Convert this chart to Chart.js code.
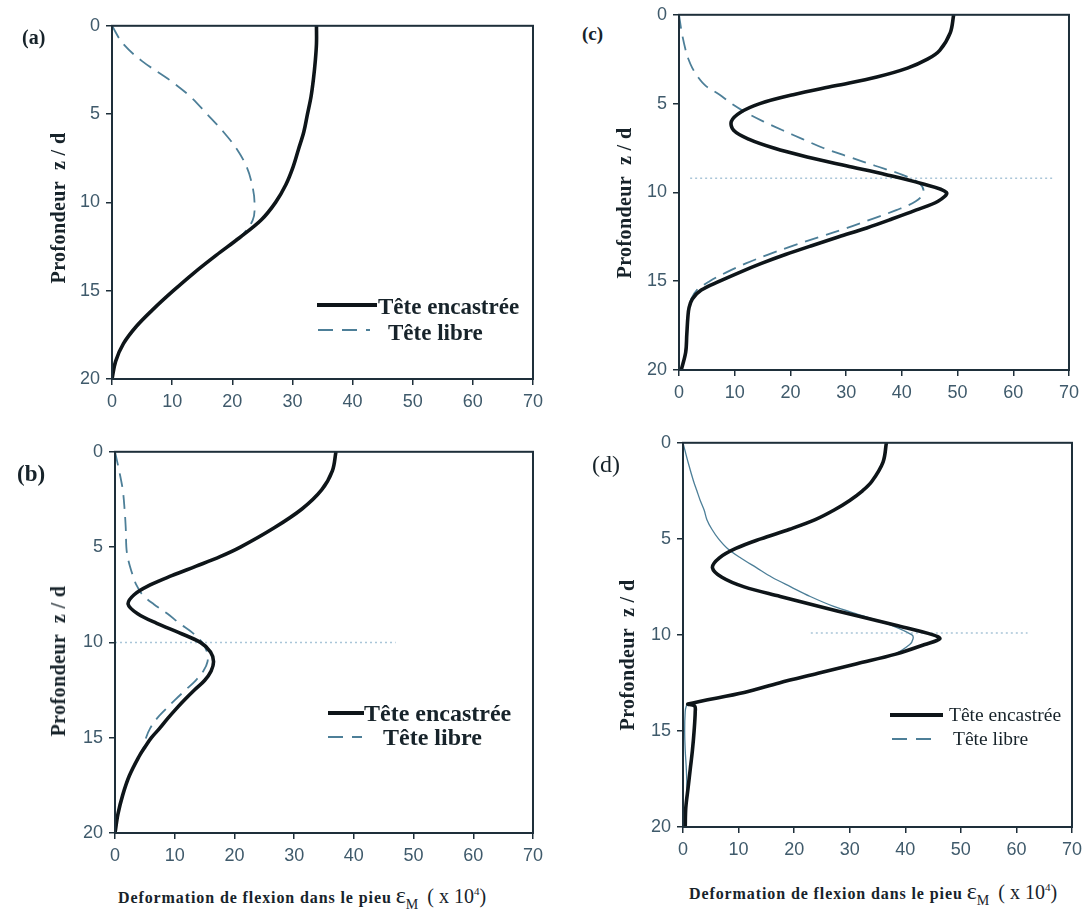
<!DOCTYPE html>
<html>
<head>
<meta charset="utf-8">
<script src="https://cdn.jsdelivr.net/npm/chart.js@4.4.1/dist/chart.umd.min.js"></script>
<style>
  body { margin: 0; background: #fff; width: 1086px; height: 920px; position: relative; overflow: hidden; font-family: "Liberation Serif", "Times New Roman", serif; color: #17232a; }
  canvas { position: absolute; }
  .t { position: absolute; white-space: nowrap; line-height: 1; }
  .b { font-weight: bold; }
  .yt { position: absolute; white-space: nowrap; line-height: 1; font-weight: bold; font-size: 20px; letter-spacing: 0.4px; transform: translate(-50%, -50%) rotate(-90deg); }
  .sw { position: absolute; height: 0; }
  .solid { border-top: 4px solid #0e1519; }
  .dash { height: 2px; background: repeating-linear-gradient(to right, #4d7f98 0 15px, transparent 15px 24px); }
  .xt { position: absolute; white-space: nowrap; line-height: 1; }
  .xt .lbl { font-weight: bold; font-size: 16px; letter-spacing: 0.9px; }
  .xt .eps { font-size: 24px; }
  .xt sub { font-size: 14px; }
  .xt .ux { font-size: 20px; }
  .xt sup { font-size: 11px; }
</style>
</head>
<body>
<canvas id="cA"></canvas>
<canvas id="cB"></canvas>
<canvas id="cC"></canvas>
<canvas id="cD"></canvas>

<div class="t b" style="left:22px;top:27px;font-size:20px">(a)</div>
<div class="t b" style="left:17px;top:462px;font-size:23px">(b)</div>
<div class="t b" style="left:582px;top:24px;font-size:19px">(c)</div>
<div class="t" style="left:592px;top:452px;font-size:24px">(d)</div>

<div class="yt" style="left:58px;top:208px">Profondeur&nbsp;&nbsp;z / d</div>
<div class="yt" style="left:58px;top:661px">Profondeur&nbsp;&nbsp;z / d</div>
<div class="yt" style="left:624px;top:203px">Profondeur&nbsp;&nbsp;z / d</div>
<div class="yt" style="left:627px;top:655px">Profondeur&nbsp;&nbsp;z / d</div>

<div class="sw solid" style="left:317px;top:303px;width:60px"></div>
<div class="t b" style="left:378px;top:295px;font-size:23px">Tête encastrée</div>
<div class="sw dash" style="left:318px;top:329px;width:52px"></div>
<div class="t b" style="left:388px;top:321px;font-size:23px">Tête libre</div>

<div class="sw solid" style="left:328px;top:711px;width:36px"></div>
<div class="t b" style="left:364px;top:701px;font-size:24px">Tête encastrée</div>
<div class="sw dash" style="left:328px;top:736px;width:34px"></div>
<div class="t b" style="left:383px;top:725px;font-size:24px">Tête libre</div>

<div class="sw solid" style="left:890px;top:713px;width:53px"></div>
<div class="t" style="left:949px;top:705px;font-size:19.5px">Tête encastrée</div>
<div class="sw dash" style="left:892px;top:738px;width:46px"></div>
<div class="t" style="left:953px;top:729px;font-size:19.5px">Tête libre</div>

<div class="xt" style="left:118px;top:883px"><span class="lbl">Deformation de flexion dans le pieu</span> <span class="eps">ε<sub>M</sub></span> <span class="ux">&nbsp;( x 10<sup>4</sup>)</span></div>
<div class="xt" style="left:689px;top:879px"><span class="lbl">Deformation de flexion dans le pieu</span> <span class="eps">ε<sub>M</sub></span> <span class="ux">&nbsp;( x 10<sup>4</sup>)</span></div>

<script>
// depth z/d (rows) and bending strain (x 10^4)
const depthA = [0, 1, 2, 3, 4, 5, 6, 7, 8, 9, 10, 11, 12, 13, 14, 15, 16, 17, 18, 19, 20];
const encastreeA = [34, 34, 33.8, 33.5, 33.1, 32.5, 31.9, 31, 30.1, 28.9, 27.2, 24.8, 21.2, 17.3, 13.6, 10.2, 7, 4.1, 1.9, 0.6, 0];
const libreA = [0, 1.8, 5, 9.3, 13, 15.8, 18.5, 20.8, 22.4, 23.3, 23.7, 23.4, 21.2, 17.3, 13.6, 10.2, 7, 4.1, 1.9, 0.6, 0];

const depthB = [0, 1, 2, 3, 4, 5, 5.5, 6, 6.5, 7, 7.5, 8, 8.5, 9, 9.5, 10, 10.5, 11, 11.5, 12, 12.5, 13, 13.5, 14, 14.5, 15, 15.5, 16, 17, 18, 19, 20];
const encastreeB = [37, 36.4, 34.6, 31.3, 26.6, 21, 17.6, 13.6, 9.5, 5.8, 3.2, 2.2, 3.8, 7, 10.8, 14.3, 16, 16.5, 16.1, 15, 13.3, 11.7, 10.2, 8.8, 7.5, 6.1, 5, 4, 2.4, 1.3, 0.5, 0];
const libreB = [0, 0.7, 1.3, 1.6, 1.8, 1.9, 2.1, 2.5, 3, 3.6, 4.6, 6.5, 8.8, 10.8, 13, 14.6, 15.4, 15.5, 14.8, 13.5, 11.8, 10.1, 8.5, 7, 5.9, 5.2, 4.8, 4, 2.4, 1.3, 0.5, 0];

const depthC = [0, 1, 2, 2.5, 3, 3.5, 4, 4.5, 5, 5.5, 6, 6.5, 7, 7.5, 8, 8.5, 9, 9.5, 10, 10.5, 11, 11.5, 12, 12.5, 13, 13.5, 14, 14.5, 15, 15.5, 16, 16.5, 17, 18, 19, 20];
const encastreeC = [49.3, 48.7, 46.8, 44.6, 41, 35.5, 28, 20.5, 14.5, 11, 9.4, 9.8, 12.5, 17, 23, 30, 37.2, 43.5, 48, 46.5, 42.5, 38.2, 33.7, 28.7, 23.8, 19.1, 14.8, 10.9, 7.3, 4, 2.4, 1.8, 1.6, 1.4, 1.2, 0.4];
const libreC = [0, 0.5, 1.2, 1.7, 2.4, 3.4, 4.8, 7.3, 9.4, 12, 15.1, 18.6, 22.2, 25.9, 30.5, 35.2, 40, 43.2, 43.9, 42.5, 39, 34.6, 30.2, 25.3, 20.5, 16, 12, 8.5, 5.5, 3.2, 2.2, 1.8, 1.6, 1.4, 1.2, 0.4];

const depthD = [0, 1, 2, 2.5, 3, 3.5, 4, 4.5, 5, 5.5, 6, 6.5, 7, 7.5, 8, 8.5, 9, 9.5, 10, 10.2, 10.5, 11, 11.5, 12, 12.5, 13, 13.6, 13.7, 14, 15, 16, 17, 18, 19, 20];
const encastreeD = [36.6, 36, 34, 32.3, 30, 27.2, 23.8, 19.2, 14, 9.5, 6.5, 5.3, 7, 11, 17.5, 24.2, 31.3, 38.3, 45, 46.2, 43.5, 38.3, 31.3, 24.3, 17.3, 11, 0.9, 2.1, 2.2, 2, 1.7, 1.3, 0.9, 0.5, 0.4];
const libreD = [0, 0.9, 1.9, 2.5, 3.1, 3.8, 4.3, 5.2, 6.4, 8, 10.4, 13.2, 16, 19.4, 22.9, 27, 32.3, 37.5, 41.2, 41.4, 40.8, 38, 31.3, 24.3, 17.3, 11, 0.9, 0.6, 0.4, 0.3, 0.4, 0.6, 0.7, 0.5, 0.4];

// faint dotted reference line near z/d = 10
const refB = { z: 10, x: [0, 47] };
const refC = { z: 9.2, x: [2, 67] };
const refD = { z: 9.9, x: [23, 62] };

const xTicks = [0, 10, 20, 30, 40, 50, 60, 70];
const yTicks = [0, 5, 10, 15, 20];

const AXW = 70, AXH = 40, PADT = 14, PADR = 14;
const AXIS = "#1e2f3a";
const TICK = "#3f5a6b";
const tickFont = { family: "Liberation Sans, Arial, sans-serif", size: 18 };

const framePlugin = {
    id: "frame",
    afterDraw(chart) {
        const { ctx, chartArea: a } = chart;
        ctx.save();
        ctx.strokeStyle = AXIS;
        ctx.lineWidth = 2;
        ctx.strokeRect(a.left, a.top, a.right - a.left, a.bottom - a.top);
        ctx.restore();
    }
};

function makePanel(id, box, depth, fixed, free, ref, freeDashed) {
    const cv = document.getElementById(id);
    cv.width = box.r - box.l + AXW + PADR;
    cv.height = box.b - box.t + PADT + AXH;
    cv.style.left = (box.l - AXW) + "px";
    cv.style.top = (box.t - PADT) + "px";

    const pts = vals => depth.map((z, i) => ({ x: vals[i], y: z }));
    const datasets = [
        { label: "Tête encastrée", data: pts(fixed), borderColor: "#0e1519", borderWidth: 3.6, tension: 0.35, order: 1 },
        { label: "Tête libre", data: pts(free), borderColor: "#4d7f98", borderWidth: freeDashed ? 1.8 : 1.3,
          borderDash: freeDashed ? [14, 8] : [], tension: 0.35, order: 2 }
    ];
    if (ref) {
        datasets.push({ label: "ref", data: ref.x.map(v => ({ x: v, y: ref.z })), borderColor: "#a9c5d8",
            borderWidth: 1.5, borderDash: [2, 3], tension: 0, order: 3 });
    }

    return new Chart(cv, {
        type: "line",
        data: { datasets: datasets },
        options: {
            responsive: false,
            animation: false,
            indexAxis: "y",
            layout: { padding: { top: PADT, right: PADR, left: 0, bottom: 0 } },
            elements: { point: { radius: 0 } },
            plugins: { legend: { display: false }, tooltip: { enabled: false } },
            scales: {
                x: {
                    type: "linear", position: "bottom",
                    min: xTicks[0], max: xTicks[xTicks.length - 1],
                    afterBuildTicks: s => { s.ticks = xTicks.map(v => ({ value: v })); },
                    ticks: { color: TICK, font: tickFont, padding: 6, maxRotation: 0, autoSkip: false },
                    grid: { drawOnChartArea: false, tickLength: 6, color: AXIS, lineWidth: 1.5 },
                    border: { color: AXIS, width: 2 },
                    afterFit: s => { s.height = AXH; }
                },
                y: {
                    type: "linear", position: "left", reverse: true,
                    min: yTicks[0], max: yTicks[yTicks.length - 1],
                    afterBuildTicks: s => { s.ticks = yTicks.map(v => ({ value: v })); },
                    ticks: { color: TICK, font: tickFont, padding: 6, autoSkip: false },
                    grid: { drawOnChartArea: false, tickLength: 6, color: AXIS, lineWidth: 1.5 },
                    border: { color: AXIS, width: 2 },
                    afterFit: s => { s.width = AXW; }
                }
            }
        },
        plugins: [framePlugin]
    });
}

makePanel("cA", { l: 112, t: 23, r: 535, b: 379 }, depthA, encastreeA, libreA, null, true);
makePanel("cB", { l: 115, t: 449, r: 535, b: 833 }, depthB, encastreeB, libreB, refB, true);
makePanel("cC", { l: 679, t: 12, r: 1071, b: 370 }, depthC, encastreeC, libreC, refC, true);
makePanel("cD", { l: 683, t: 440, r: 1074, b: 827 }, depthD, encastreeD, libreD, refD, false);
</script>
</body>
</html>
